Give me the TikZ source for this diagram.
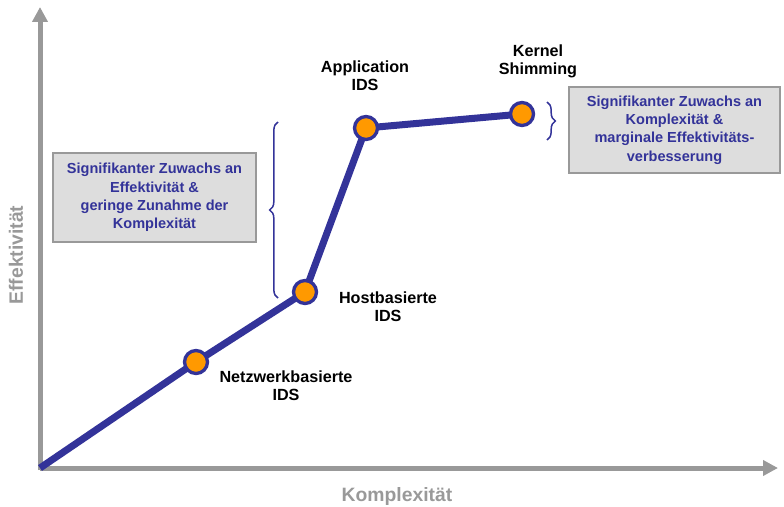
\documentclass[tikz,border=0pt]{standalone}
\usepackage{fontspec}
\setmainfont{Liberation Sans}
\usepackage{xcolor}
\usetikzlibrary{arrows.meta,decorations.pathreplacing}
\definecolor{idsblue}{HTML}{333399}
\definecolor{idsorange}{HTML}{FF9900}
\definecolor{axisgray}{HTML}{999999}
\definecolor{boxgray}{HTML}{DDDDDD}
\tikzset{
  axis/.style={draw=axisgray,line width=0.15cm,-{Triangle[length=0.45cm,width=0.45cm]}},
  stage/.style={circle,draw=idsblue,fill=idsorange,line width=0.1cm,minimum size=0.69cm,inner sep=0pt},
  stagelabel/.style={align=center,font=\bfseries\fontsize{13.8}{15.5}\selectfont},
  notebox/.style={draw=axisgray,fill=boxgray,line width=0.05cm,align=center,text=idsblue,
    font=\bfseries\fontsize{12.4}{15.6}\selectfont,inner sep=0pt},
  axislabel/.style={text=axisgray,font=\bfseries\fontsize{16.5}{18}\selectfont},
  bracket/.style={draw=idsblue,line width=0.045cm,decorate,decoration={brace,amplitude=0.25cm}}
}

\begin{document}
\begin{tikzpicture}[x=0.03cm,y=-0.03cm]
\useasboundingbox (0,0) rectangle (784,507);
% axes
\coordinate (o) at (40,468);
\coordinate (xend) at (778,468); \coordinate (yend) at (40,7);
\draw[axis] (o) -- (xend);
\draw[axis] (40,470) -- (yend);
\node[axislabel] (xlab) at (397,496) {Komplexität};
\node[axislabel,rotate=90] (ylab) at (16,255) {Effektivität};
% the four stages
\coordinate (p1) at (196,362); \coordinate (p2) at (305,292);
\coordinate (p3) at (366,128); \coordinate (p4) at (522,114);
\draw[idsblue,line width=0.21cm,line join=round] (o) -- (p1) -- (p2) -- (p3) -- (p4);
\node[stage] (net) at (p1) {};
\node[stage] (host) at (p2) {};
\node[stage] (app) at (p3) {};
\node[stage] (kern) at (p4) {};
\node[stagelabel] (netlab) at (286,386) {Netzwerkbasierte\\IDS};
\node[stagelabel] (hostlab) at (388,307) {Hostbasierte\\IDS};
\node[stagelabel] (applab) at (365,76) {Application\\IDS};
\node[stagelabel] (kernlab) at (538,61) {Kernel\\Shimming};
% notes with braces
\node[notebox,minimum width=203*0.03cm,minimum height=89*0.03cm] (lnote) at (154.5,197.5)
  {Signifikanter Zuwachs an\\Effektivität \&\\geringe Zunahme der\\Komplexität};
\node[notebox,minimum width=211*0.03cm,minimum height=86*0.03cm] (rnote) at (674.5,130)
  {Signifikanter Zuwachs an\\Komplexität \&\\marginale Effektivitäts-\\verbesserung};
\draw[bracket] (278,298) -- (278,122);
\draw[bracket] (547,102) -- (547,140);
\end{tikzpicture}
\end{document}
